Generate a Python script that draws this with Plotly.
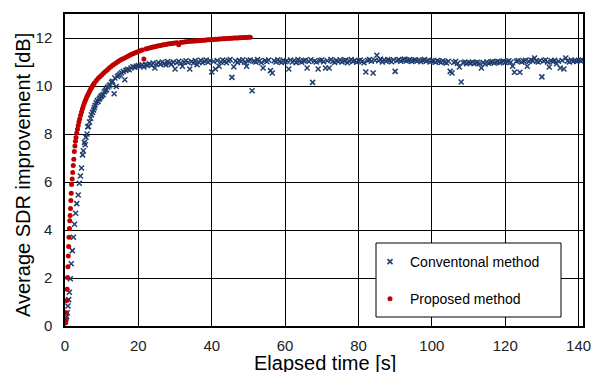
import plotly.graph_objects as go

# ---------------- data ----------------
# Conventional method: early phase (irregular time stamps)
conv_early_t = [0.1, 0.2, 0.45, 0.6, 0.8, 1.0, 1.2, 1.45, 1.7, 2.0, 2.3, 2.6, 2.9, 3.2, 3.6, 3.9,
                4.2, 4.5, 4.8, 5.0, 5.3, 5.5, 5.7, 6.0, 6.2, 6.4, 6.7, 7.0, 7.2, 7.5, 7.8, 8.0,
                8.2, 8.5, 8.8, 9.0, 9.3, 9.5, 9.8, 10.0, 10.4, 10.7, 11.0, 11.3, 11.6, 12.0, 12.3,
                12.7, 13.0, 13.4, 13.6, 14.0, 14.3, 14.7, 15.0, 15.4, 15.9, 16.3, 16.6, 17.0,
                17.5, 18.0, 18.5, 19.0, 19.5, 20.0]
conv_early_y = [0.2, 0.3, 0.39, 0.55, 0.83, 1.1, 1.41, 1.97, 2.59, 3.14, 3.7, 4.24, 4.7, 5.1, 5.46, 5.95,
                6.25, 6.58, 7.13, 7.3, 7.65, 7.55, 7.87, 8.0, 8.3, 8.31, 8.5, 8.66, 8.8, 8.9, 9.0, 9.1,
                9.2, 9.3, 9.39, 9.35, 9.45, 9.5, 9.55, 9.6, 9.64, 9.75, 9.8, 9.85, 9.95, 10.0, 10.05,
                10.15, 10.2, 9.68, 10.33, 9.98, 10.4, 10.45, 10.5, 10.55, 10.61, 10.26, 10.65, 10.7,
                10.68, 10.75, 10.8, 10.78, 10.82, 10.85]

# Conventional method: plateau phase, one value every 0.5 s from 20.5 s to 141 s
conv_plateau_start = 20.5
conv_plateau_step = 0.5
conv_plateau_y = [
    10.82, 10.88, 10.79, 10.90, 10.86, 10.93, 10.87, 10.96, 10.75, 10.92,   # 20.5 - 25
    10.98, 10.90, 11.00, 10.94, 10.88, 11.02, 10.96, 10.90, 11.00, 10.71,   # 25.5 - 30
    10.97, 11.03, 10.95, 10.82, 11.00, 11.05, 10.98, 10.71, 11.02, 10.96,   # 30.5 - 35
    11.06, 10.89, 11.00, 11.07, 10.97, 11.03, 11.08, 10.99, 11.05, 10.58,   # 35.5 - 40
    11.02, 10.71, 11.06, 10.82, 11.00, 11.08, 11.03, 10.97, 11.05, 11.10,   # 40.5 - 45
    10.36, 10.80, 11.04, 10.98, 11.07, 11.02, 11.09, 10.99, 10.82, 11.05,   # 45.5 - 50
    11.08, 9.80, 11.03, 11.00, 11.10, 11.04, 10.97, 10.75, 11.06, 11.02,    # 50.5 - 55
    11.08, 10.64, 10.54, 11.05, 11.00, 11.09, 11.03, 10.98, 11.07, 11.01,   # 55.5 - 60
    11.04, 10.71, 11.08, 11.00, 11.06, 10.97, 11.10, 11.03, 10.99, 11.05,   # 60.5 - 65
    11.07, 10.75, 11.02, 11.09, 10.15, 11.04, 11.00, 10.71, 11.06, 11.08,   # 65.5 - 70
    11.01, 10.75, 11.05, 10.75, 11.10, 11.03, 10.98, 11.06, 11.02, 11.09,   # 70.5 - 75
    11.00, 11.05, 11.08, 10.97, 11.04, 11.10, 11.02, 11.06, 10.99, 11.05,   # 75.5 - 80
    11.08, 11.02, 10.97, 10.58, 11.06, 11.10, 11.03, 10.54, 11.07, 11.28,   # 80.5 - 85
    11.05, 11.12, 11.00, 11.08, 11.03, 11.10, 11.06, 11.01, 11.09, 10.61,   # 85.5 - 90
    11.05, 11.10, 11.03, 11.08, 11.12, 11.04, 11.07, 11.10, 11.02, 11.06,   # 90.5 - 95
    11.09, 11.04, 11.08, 11.01, 11.06, 11.10, 11.03, 11.07, 11.00, 11.05,   # 95.5 - 100
    11.04, 10.99, 11.06, 11.02, 10.98, 11.05, 11.00, 10.96, 11.03, 10.61,   # 100.5 - 105
    10.54, 10.98, 11.02, 10.95, 10.79, 10.17, 10.97, 11.00, 10.93, 10.98,   # 105.5 - 110
    10.96, 11.00, 10.93, 10.97, 10.99, 10.94, 10.75, 10.98, 10.92, 11.00,   # 110.5 - 115
    10.95, 10.99, 11.02, 10.96, 11.00, 11.03, 10.97, 11.01, 11.04, 10.98,   # 115.5 - 120
    11.02, 11.05, 10.99, 10.82, 10.57, 11.03, 11.06, 10.57, 11.00, 11.04,   # 120.5 - 125
    11.07, 10.82, 11.02, 11.08, 11.05, 11.17, 11.03, 11.00, 11.06, 10.38,   # 125.5 - 130
    11.04, 11.08, 11.00, 10.79, 11.05, 11.02, 11.07, 10.93, 11.03, 10.75,   # 130.5 - 135
    11.06, 10.71, 11.17, 11.04, 11.00, 11.08, 11.03, 11.06, 11.02, 11.07,   # 135.5 - 140
    11.05, 11.08,                                                           # 140.5 - 141
]

# Proposed method
prop_t = [0.1, 0.15, 0.27, 0.4, 0.5, 0.6, 0.7, 0.8, 0.9, 1.0, 1.1, 1.2, 1.3, 1.4, 1.5, 1.6, 1.7, 1.8,
          1.95, 2.1, 2.25, 2.4, 2.55, 2.7, 2.85, 3.0, 3.2, 3.4, 3.6, 3.8, 4.0, 4.25, 4.5, 4.75, 5.0,
          5.25, 5.5, 5.75, 6.0, 6.25, 6.5, 6.75, 7.0, 7.25, 7.5, 7.75, 8.0, 8.5, 9.0, 9.5, 10.0,
          10.5, 11.0, 11.5, 12.0, 12.5, 13.0, 13.5, 14.0, 14.5, 15.0, 15.5, 16.0, 16.5, 17.0, 17.5,
          18.0, 18.5, 19.0, 19.5, 20.0, 20.5, 21.0, 21.5, 22.0, 22.5, 23.0, 23.5, 24.0, 24.5, 25.0,
          25.5, 26.0, 26.5, 27.0, 27.5, 28.0, 28.5, 29.0, 29.5, 30.0, 30.5, 31.0, 31.5, 32.0, 32.5,
          33.0, 33.5, 34.0, 34.5, 35.0, 35.5, 36.0, 36.5, 37.0, 37.5, 38.0, 38.5, 39.0, 39.5, 40.0,
          40.5, 41.0, 41.5, 42.0, 42.5, 43.0, 43.5, 44.0, 44.5, 45.0, 45.5, 46.0, 46.5, 47.0, 47.5,
          48.0, 48.5, 49.0, 49.5, 50.0, 50.5]
prop_y = [0.12, 0.18, 0.25, 0.55, 1.06, 1.53, 2.02, 2.47, 2.92, 3.31, 3.7, 4.06, 4.39, 4.6, 4.9, 5.23,
          5.53, 5.9, 6.12, 6.4, 6.69, 6.95, 7.27, 7.5, 7.7, 7.85, 8.04, 8.2, 8.35, 8.5, 8.62, 8.78,
          8.92, 9.05, 9.17, 9.28, 9.38, 9.47, 9.56, 9.64, 9.72, 9.8, 9.87, 9.93, 10.0, 10.06, 10.12,
          10.22, 10.31, 10.39, 10.46, 10.53, 10.6, 10.67, 10.74, 10.8, 10.86, 10.92, 10.97, 11.02,
          11.07, 11.11, 11.15, 11.19, 11.23, 11.27, 11.31, 11.34, 11.38, 11.41, 11.44, 11.47, 11.5,
          11.13, 11.54, 11.56, 11.58, 11.6, 11.62, 11.64, 11.66, 11.68, 11.69, 11.71, 11.72, 11.73,
          11.75, 11.76, 11.77, 11.78, 11.79, 11.8, 11.72, 11.81, 11.82, 11.83, 11.84, 11.85, 11.86,
          11.86, 11.87, 11.88, 11.89, 11.89, 11.9, 11.91, 11.91, 11.92, 11.93, 11.93, 11.94, 11.94,
          11.95, 11.95, 11.96, 11.96, 11.97, 11.97, 11.98, 11.98, 11.99, 11.99, 12.0, 12.0, 12.0,
          12.01, 12.01, 12.02, 12.02, 12.02, 12.03, 12.03]

x_ticks = [0, 20, 40, 60, 80, 100, 120, 140]
y_ticks = [0, 2, 4, 6, 8, 10, 12]

series_names = ["Conventonal method", "Proposed method"]
x_title = "Elapsed time [s]"
y_title = "Average SDR improvement [dB]"

# ---------------- figure ----------------
conv_t = conv_early_t + [conv_plateau_start + i * conv_plateau_step for i in range(len(conv_plateau_y))]
conv_y = conv_early_y + conv_plateau_y

FONT = "Arial, 'Liberation Sans', sans-serif"
NAVY = "#1f3d6e"
RED = "#c00000"

fig = go.Figure()
fig.add_trace(go.Scatter(
    x=conv_t, y=conv_y, mode="markers", name=series_names[0], legendgroup="a",
    marker=dict(symbol="x-thin-open", size=5, color=NAVY, line=dict(color=NAVY, width=1.5)),
))
fig.add_trace(go.Scatter(
    x=prop_t, y=prop_y, mode="markers", name=series_names[1], legendgroup="b",
    marker=dict(symbol="circle", size=5, color=RED, line=dict(width=0)),
))

W, H = 592, 372
L, R, T, B = 65, 9, 14, 46
pw = W - L - R
ph = H - T - B


def px_x(p):
    return (p - L) / pw


def px_y(p):
    return (H - B - p) / ph


fig.add_shape(type="rect", xref="paper", yref="paper",
              x0=px_x(376), x1=px_x(561), y0=px_y(317), y1=px_y(243),
              line=dict(color="black", width=1), fillcolor="white", layer="above")

fig.add_annotation(text=x_title, xref="paper", yref="paper", x=px_x(325), y=px_y(375),
                   xanchor="center", yanchor="bottom", showarrow=False, borderpad=0,
                   font=dict(family=FONT, size=20, color="black"))
fig.add_annotation(text=y_title, xref="paper", yref="paper", x=px_x(23), y=px_y(175),
                   xanchor="center", yanchor="middle", textangle=-90, showarrow=False,
                   font=dict(family=FONT, size=20, color="black"))

fig.update_layout(
    width=W, height=H,
    margin=dict(l=L, r=R, t=T, b=B, autoexpand=False),
    paper_bgcolor="white", plot_bgcolor="white",
    font=dict(family=FONT, size=14, color="black"),
    showlegend=True,
    legend=dict(x=px_x(370), y=px_y(246), xanchor="left", yanchor="top",
                bgcolor="rgba(0,0,0,0)", borderwidth=0, tracegroupgap=16,
                font=dict(family=FONT, size=14, color="black")),
    xaxis=dict(range=[0, 141.2], tickvals=x_ticks, showgrid=True, gridcolor="black", gridwidth=1,
               showline=True, linecolor="black", linewidth=1.5, mirror=True, zeroline=False,
               automargin=False, ticks="", ticklabelstandoff=5,
               tickfont=dict(size=15, color="#222")),
    yaxis=dict(range=[0, 13], tickvals=y_ticks, showgrid=True, gridcolor="black", gridwidth=1,
               showline=True, linecolor="black", linewidth=1.5, mirror=True, zeroline=False,
               automargin=False, ticks="", ticklabelstandoff=8,
               tickfont=dict(size=15, color="#222")),
)

fig.write_html("out.html", post_script="document.body.style.margin='0';",
               config={"displayModeBar": False})
